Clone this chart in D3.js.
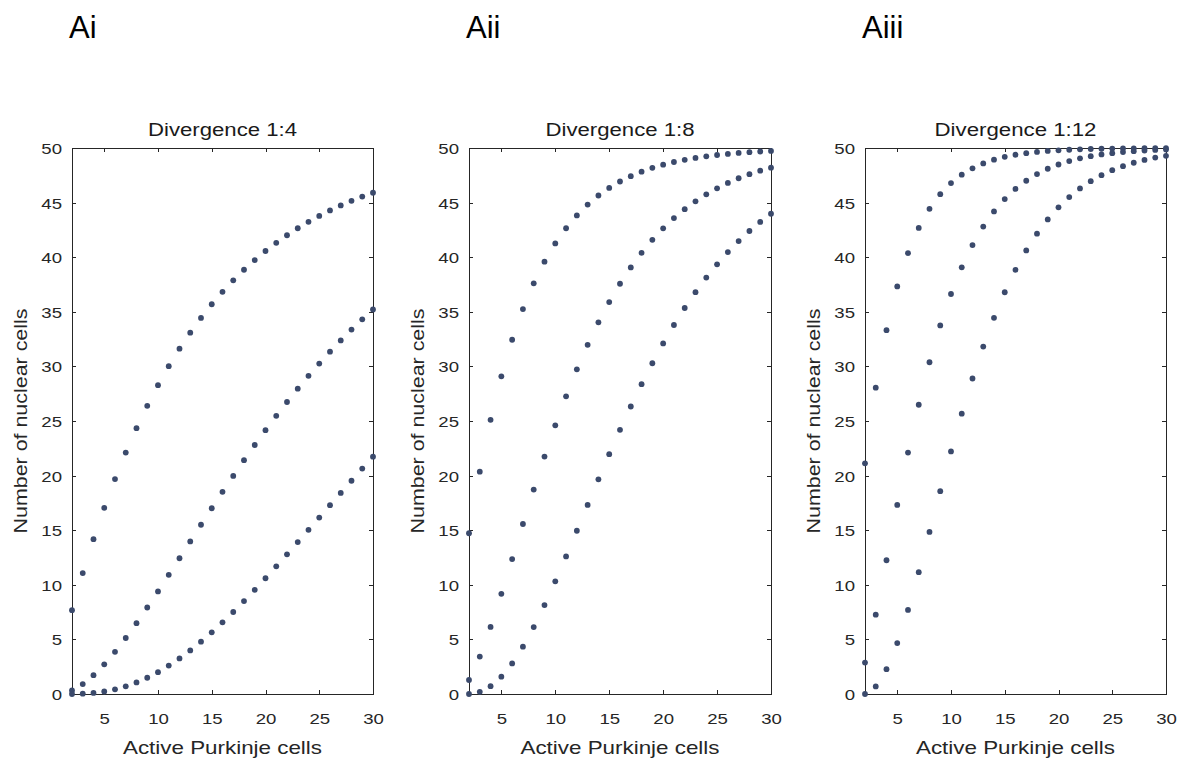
<!DOCTYPE html>
<html>
<head>
<meta charset="utf-8">
<script src="https://cdn.jsdelivr.net/npm/d3@7"></script>
<style>
  html, body { margin: 0; padding: 0; background: #ffffff; }
  svg { display: block; }
</style>
</head>
<body>
<svg id="fig" width="1186" height="762"></svg>
<script>
// Number of active Purkinje cells (x values shared by every series)
const activeCells = [2, 3, 4, 5, 6, 7, 8, 9, 10, 11, 12, 13, 14, 15, 16, 17, 18, 19, 20,
                     21, 22, 23, 24, 25, 26, 27, 28, 29, 30];

// Divergence 1:4 — nuclear cells reached by at least 1, 2 and 3 active inputs
const div4AtLeast1 = [7.68, 11.07, 14.18, 17.05, 19.68, 22.11, 24.34, 26.39, 28.28, 30.02, 31.62, 33.09, 34.44, 35.69,
                      36.83, 37.88, 38.85, 39.74, 40.57, 41.32, 42.01, 42.65, 43.24, 43.78, 44.28, 44.74, 45.16, 45.55, 45.90];
const div4AtLeast2 = [0.32, 0.91, 1.72, 2.72, 3.86, 5.13, 6.49, 7.92, 9.39, 10.91, 12.43, 13.97, 15.50, 17.01,
                      18.51, 19.97, 21.41, 22.80, 24.16, 25.47, 26.74, 27.96, 29.14, 30.26, 31.35, 32.38, 33.37, 34.31, 35.21];
const div4AtLeast3 = [0.00, 0.03, 0.10, 0.23, 0.43, 0.70, 1.06, 1.49, 2.00, 2.60, 3.26, 3.99, 4.79, 5.65,
                      6.56, 7.51, 8.51, 9.54, 10.60, 11.69, 12.79, 13.91, 15.03, 16.16, 17.29, 18.41, 19.53, 20.64, 21.73];

// Divergence 1:8
const div8AtLeast1 = [14.72, 20.36, 25.11, 29.09, 32.44, 35.25, 37.61, 39.59, 41.26, 42.65, 43.83, 44.82, 45.65, 46.34,
                      46.93, 47.42, 47.83, 48.18, 48.47, 48.72, 48.92, 49.09, 49.24, 49.36, 49.46, 49.55, 49.62, 49.68, 49.73];
const div8AtLeast2 = [1.28, 3.43, 6.14, 9.17, 12.36, 15.57, 18.72, 21.74, 24.60, 27.26, 29.73, 31.98, 34.04, 35.89,
                      37.57, 39.06, 40.40, 41.59, 42.64, 43.58, 44.40, 45.12, 45.76, 46.31, 46.80, 47.23, 47.60, 47.92, 48.20];
const div8AtLeast3 = [0.00, 0.20, 0.72, 1.59, 2.80, 4.33, 6.13, 8.14, 10.32, 12.60, 14.95, 17.31, 19.66, 21.96,
                      24.19, 26.33, 28.37, 30.29, 32.10, 33.79, 35.35, 36.80, 38.13, 39.35, 40.47, 41.48, 42.40, 43.23, 43.98];

// Divergence 1:12
const div12AtLeast1 = [21.12, 28.05, 33.32, 37.32, 40.37, 42.68, 44.43, 45.77, 46.79, 47.56, 48.14, 48.59, 48.93, 49.19,
                       49.38, 49.53, 49.64, 49.73, 49.79, 49.84, 49.88, 49.91, 49.93, 49.95, 49.96, 49.97, 49.98, 49.98, 49.99];
const div12AtLeast2 = [2.88, 7.26, 12.25, 17.31, 22.11, 26.49, 30.38, 33.75, 36.63, 39.07, 41.11, 42.80, 44.19, 45.32,
                       46.25, 47.00, 47.61, 48.10, 48.49, 48.80, 49.05, 49.25, 49.41, 49.53, 49.63, 49.71, 49.77, 49.82, 49.86];
const div12AtLeast3 = [0.00, 0.69, 2.27, 4.66, 7.70, 11.16, 14.84, 18.57, 22.21, 25.67, 28.89, 31.82, 34.45, 36.79,
                       38.84, 40.62, 42.15, 43.46, 44.57, 45.51, 46.30, 46.96, 47.51, 47.97, 48.34, 48.65, 48.91, 49.12, 49.28];

// Labels and ticks
const panelNames  = ["Ai", "Aii", "Aiii"];
const panelTitles = ["Divergence 1:4", "Divergence 1:8", "Divergence 1:12"];
const xTickValues = [5, 10, 15, 20, 25, 30];
const yTickValues = [0, 5, 10, 15, 20, 25, 30, 35, 40, 45, 50];
const xAxisLabel = "Active Purkinje cells";
const yAxisLabel = "Number of nuclear cells";

// ---- layout ----
const FONT = "'Liberation Sans', Arial, Helvetica, sans-serif";
const AXIS_COLOR = "#262626";
const DOT_COLOR = "#3b4a6c";
const TEXT_SX = 1.2;           // horizontal text stretch of the exported figure
const TOP = 148, BOTTOM = 694;
const TICK = 4;

const panels = [
  { name: panelNames[0], title: panelTitles[0], series: [div4AtLeast1, div4AtLeast2, div4AtLeast3],
    left: 72, right: 373, titleLen: 149 },
  { name: panelNames[1], title: panelTitles[1], series: [div8AtLeast1, div8AtLeast2, div8AtLeast3],
    left: 469, right: 771, titleLen: 149 },
  { name: panelNames[2], title: panelTitles[2], series: [div12AtLeast1, div12AtLeast2, div12AtLeast3],
    left: 865, right: 1166, titleLen: 162 }
];

const svg = d3.select("#fig");
svg.append("rect").attr("width", 1186).attr("height", 762).attr("fill", "#ffffff");

panels.forEach(p => {
  const x = d3.scaleLinear().domain([2, 30]).range([p.left, p.right]);
  const y = d3.scaleLinear().domain([0, 50]).range([BOTTOM, TOP]);
  const g = svg.append("g");

  // panel letter
  g.append("text")
    .attr("x", p.left - 3).attr("y", 38)
    .attr("font-family", FONT).attr("font-size", 31).attr("fill", "#000")
    .text(p.name);

  // bottom axis with labels
  const gx = g.append("g").attr("transform", `translate(0,${BOTTOM})`)
    .call(d3.axisBottom(x).tickValues(xTickValues).tickSizeInner(-TICK).tickSizeOuter(0));
  gx.selectAll("text")
    .attr("y", 30).attr("dy", null)
    .attr("transform", `scale(${TEXT_SX},1)`);

  // left axis with labels
  const gy = g.append("g").attr("transform", `translate(${p.left},0)`)
    .call(d3.axisLeft(y).tickValues(yTickValues).tickSizeInner(-TICK).tickSizeOuter(0));
  gy.selectAll("text")
    .attr("x", -10 / TEXT_SX).attr("dy", "0.36em")
    .attr("transform", `scale(${TEXT_SX},1)`);

  // top and right edges of the box, ticks only
  g.append("g").attr("transform", `translate(0,${TOP})`)
    .call(d3.axisTop(x).tickValues(xTickValues).tickSizeInner(-TICK).tickSizeOuter(0).tickFormat(""));
  g.append("g").attr("transform", `translate(${p.right},0)`)
    .call(d3.axisRight(y).tickValues(yTickValues).tickSizeInner(-TICK).tickSizeOuter(0).tickFormat(""));

  g.selectAll(".domain, .tick line")
    .attr("stroke", AXIS_COLOR).attr("stroke-width", 1).attr("shape-rendering", "crispEdges");
  g.selectAll(".tick text")
    .attr("font-family", FONT).attr("font-size", 15.5).attr("fill", AXIS_COLOR);

  // title
  const cx = (p.left + p.right) / 2;
  g.append("text")
    .attr("x", cx).attr("y", 136).attr("text-anchor", "middle")
    .attr("font-family", FONT).attr("font-size", 18).attr("fill", "#1a1a1a")
    .attr("textLength", p.titleLen).attr("lengthAdjust", "spacingAndGlyphs")
    .text(p.title);

  // x axis label
  g.append("text")
    .attr("x", cx).attr("y", 754).attr("text-anchor", "middle")
    .attr("font-family", FONT).attr("font-size", 18.5).attr("fill", AXIS_COLOR)
    .attr("textLength", 199).attr("lengthAdjust", "spacingAndGlyphs")
    .text(xAxisLabel);

  // y axis label
  g.append("text")
    .attr("transform", `translate(${p.left - 45},${(TOP + BOTTOM) / 2}) rotate(-90)`)
    .attr("text-anchor", "middle")
    .attr("font-family", FONT).attr("font-size", 19).attr("fill", AXIS_COLOR)
    .attr("textLength", 225).attr("lengthAdjust", "spacingAndGlyphs")
    .text(yAxisLabel);

  // dots
  p.series.forEach(values => {
    g.append("g").selectAll("circle")
      .data(values)
      .join("circle")
      .attr("cx", (d, i) => x(activeCells[i]))
      .attr("cy", d => y(d))
      .attr("r", 2.9)
      .attr("fill", DOT_COLOR);
  });
});
</script>
</body>
</html>
